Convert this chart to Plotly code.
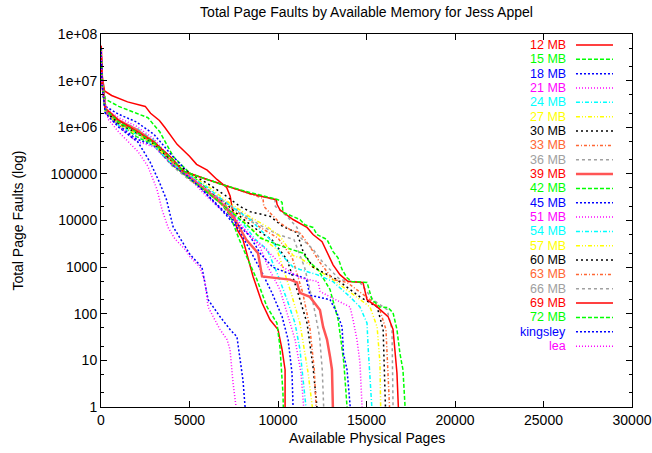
import plotly.graph_objects as go

# Legend entries, colors and dash styles (gnuplot-like)
series_names = ["12 MB", "15 MB", "18 MB", "21 MB", "24 MB", "27 MB", "30 MB", "33 MB", "36 MB",
                "39 MB", "42 MB", "45 MB", "51 MB", "54 MB", "57 MB", "60 MB", "63 MB", "66 MB",
                "69 MB", "72 MB", "kingsley", "lea"]
text_colors = ["#ff0000", "#00ff00", "#0000ff", "#ff00ff", "#00ffff", "#ffff00", "#000000", "#ff6633", "#a0a0a0",
               "#ff0000", "#00ff00", "#0000ff", "#ff00ff", "#00ffff", "#ffff00", "#000000", "#ff6633", "#a0a0a0",
               "#ff0000", "#00ff00", "#0000ff", "#ff00ff"]
line_colors = list(text_colors)
line_colors[9] = "#ff5555"
dashes = ["solid", "4px,2px", "2px,2px", "1px,2px", "4px,2px,1px,2px", "4px,2px,1px,2px,1px,2px",
          "2px,3px", "3px,2px,1px,2px", "3px,3px",
          "solid", "4px,2px", "2px,2px", "1px,2px", "4px,2px,1px,2px", "4px,2px,1px,2px,1px,2px",
          "2px,3px", "3px,2px,1px,2px", "3px,3px",
          "solid", "4px,2px", "2px,2px", "1px,2px"]
widths = [1.5] * 22
widths[9] = 2.5

# Data: available physical pages vs total page faults
pages_12 = [0, 60, 200, 600, 1500, 2500, 2800, 3300, 3600, 4300, 5000, 5400, 6000, 6550, 7100, 7300, 7450, 7700, 8020, 8590, 9100, 9550, 10000, 10230, 10400, 10400]
faults_12 = [5.6e7, 1.3e7, 6.0e6, 4.8e6, 3.5e6, 2.8e6, 2.0e6, 1.4e6, 1.0e6, 4.3e5, 2.4e5, 1.6e5, 1.2e5, 7.6e4, 5.1e4, 3.3e4, 1.5e4, 6300, 3900, 630, 170, 74, 46, 17, 6.3, 1]

pages_15 = [0, 60, 250, 1000, 2000, 2650, 3100, 3330, 4070, 4630, 5500, 6500, 7300, 7800, 8300, 8810, 9380, 9940, 10110, 10230, 10280, 10300]
faults_15 = [5.0e7, 1.0e7, 4.0e6, 2.8e6, 2.0e6, 1.6e6, 1.0e6, 7.9e5, 2.4e5, 1.45e5, 7.0e4, 3.2e4, 1.26e4, 4000, 1450, 540, 140, 63, 19.5, 5.4, 2, 1]

pages_18 = [0, 60, 250, 1000, 2000, 3000, 4000, 5000, 6000, 7000, 7800, 8530, 9100, 9660, 10230, 10570, 10790, 10850]
faults_18 = [5.2e7, 1.0e7, 2.8e6, 1.9e6, 1.3e6, 7.0e5, 2.5e5, 1.0e5, 3.5e4, 1.4e4, 6300, 2000, 760, 280, 87, 28, 5.4, 1]

pages_21 = [0, 60, 250, 1000, 2000, 3000, 4000, 5000, 6000, 7000, 8000, 8980, 9440, 10110, 10570, 10960, 11300, 11450]
faults_21 = [5.0e7, 8.9e6, 2.5e6, 1.6e6, 1.05e6, 5.6e5, 2.0e5, 8.0e4, 3.2e4, 1.5e4, 7100, 2750, 1000, 330, 87, 28, 5.4, 1]

pages_24 = [0, 60, 250, 1000, 2000, 3000, 4000, 5000, 6000, 7000, 8000, 8700, 9380, 9940, 10510, 10960, 11240, 11580]
faults_24 = [5.0e7, 8.9e6, 2.4e6, 1.4e6, 9.5e5, 5.2e5, 1.9e5, 8.9e4, 4.2e4, 2.0e4, 8900, 4000, 2400, 760, 200, 63, 17, 1]

pages_27 = [0, 60, 250, 1000, 2000, 3000, 4000, 5000, 6000, 7000, 8000, 9000, 9940, 10680, 11240, 11700, 11940]
faults_27 = [5.0e7, 8.9e6, 2.3e6, 1.3e6, 8.9e5, 5.0e5, 1.8e5, 8.3e4, 4.2e4, 2.2e4, 1.0e4, 4500, 2400, 330, 63, 5.4, 1]

pages_30 = [0, 60, 250, 1000, 2000, 3000, 4000, 5000, 6000, 7000, 8000, 9000, 9650, 10510, 11070, 11640, 11980, 12200]
faults_30 = [5.0e7, 8.9e6, 2.2e6, 1.26e6, 8.3e5, 4.5e5, 1.66e5, 7.9e4, 4.2e4, 2.4e4, 1.1e4, 5600, 3900, 1450, 330, 63, 7.2, 1]

pages_33 = [0, 60, 250, 1000, 2000, 3000, 4000, 5000, 6000, 7000, 8000, 9000, 10000, 10800, 11400, 11800, 12050, 12150]
faults_33 = [5.0e7, 8.9e6, 2.1e6, 1.2e6, 7.9e5, 4.2e5, 1.6e5, 7.6e4, 4.0e4, 2.5e4, 1.26e4, 7100, 4200, 1600, 280, 50, 6.3, 1]

pages_36 = [0, 60, 250, 1000, 2000, 3000, 4000, 5000, 6000, 7000, 8000, 9000, 10000, 10900, 11500, 12000, 12350, 12500, 12580]
faults_36 = [5.0e7, 8.9e6, 2.1e6, 1.1e6, 7.6e5, 4.0e5, 1.5e5, 7.4e4, 4.2e4, 2.6e4, 1.4e4, 7900, 5000, 3900, 1000, 160, 32, 6.3, 1]

pages_39 = [0, 60, 250, 1000, 2000, 3000, 4000, 5000, 6000, 7000, 7600, 8200, 8870, 9100, 9720, 10680, 11070, 11240, 11800, 12370, 12550, 12770, 12940, 13050, 13100]
faults_39 = [5.0e7, 8.9e6, 2.5e6, 1.4e6, 8.9e5, 4.8e5, 1.8e5, 8.9e4, 4.2e4, 2.0e4, 1.0e4, 3900, 2000, 630, 590, 540, 470, 280, 230, 120, 52, 28, 12, 6.3, 1]

pages_42 = [0, 60, 250, 1000, 2000, 3000, 4000, 5000, 6000, 7000, 8400, 9000, 10280, 11400, 11800, 12260, 12940, 13400, 13550, 13720, 13900]
faults_42 = [5.0e7, 8.9e6, 2.2e6, 1.26e6, 6.3e5, 4.2e5, 1.6e5, 7.9e4, 4.0e4, 2.0e4, 7100, 4200, 2750, 2000, 1260, 890, 330, 74, 28, 8.9, 1]

pages_45 = [0, 60, 250, 1000, 2000, 3000, 4000, 5000, 6000, 7000, 8420, 8980, 9700, 10500, 11240, 11600, 11800, 12940, 13330, 13620, 13700, 13900, 14080]
faults_45 = [5.0e7, 8.9e6, 2.0e6, 1.1e6, 5.6e5, 4.0e5, 1.6e5, 8.3e4, 3.6e4, 1.5e4, 4600, 2000, 1000, 760, 630, 560, 250, 200, 105, 52, 14, 6.3, 1]

pages_51 = [0, 60, 250, 1000, 2000, 3000, 4000, 5000, 6000, 7000, 8420, 9150, 9720, 10280, 11240, 12260, 12380, 12940, 14070, 14240, 14460, 14630, 14750]
faults_51 = [5.0e7, 8.9e6, 2.0e6, 1.05e6, 5.0e5, 3.8e5, 1.6e5, 8.9e4, 4.8e4, 2.2e4, 4600, 2750, 1700, 1000, 590, 490, 300, 230, 140, 74, 28, 8.9, 1]

pages_54 = [0, 60, 250, 1000, 2000, 3000, 4000, 5000, 6000, 7000, 8420, 9150, 9720, 10280, 10850, 11240, 12200, 13110, 14070, 14630, 15030, 15090, 15300]
faults_54 = [5.0e7, 8.9e6, 2.1e6, 1.1e6, 7.1e5, 4.0e5, 1.66e5, 9.5e4, 5.2e4, 2.5e4, 1.05e4, 5500, 3400, 1700, 1000, 890, 690, 490, 230, 140, 63, 19.5, 1]

pages_57 = [0, 60, 250, 1000, 2000, 3000, 4000, 5000, 6000, 7000, 8420, 9380, 10110, 10510, 10850, 11240, 11980, 13110, 14460, 15200, 15600, 15760, 15800]
faults_57 = [5.0e7, 8.9e6, 2.1e6, 1.15e6, 7.2e5, 4.2e5, 1.8e5, 1.0e5, 5.6e4, 2.8e4, 1.2e4, 7400, 4600, 2750, 1780, 1580, 1000, 540, 230, 140, 52, 8.9, 1]

pages_60 = [0, 60, 250, 1000, 2000, 3000, 4000, 5000, 6000, 7000, 7850, 8420, 9550, 10280, 11070, 11410, 11980, 13330, 14630, 15600, 15940, 16070]
faults_60 = [5.0e7, 8.9e6, 2.2e6, 1.2e6, 7.6e5, 4.4e5, 1.9e5, 1.05e5, 6.3e4, 3.5e4, 2.0e4, 1.55e4, 1.23e4, 7400, 5500, 2200, 1000, 540, 230, 140, 46, 1]

pages_63 = [0, 60, 250, 1000, 2000, 3000, 4000, 4630, 6000, 7100, 8400, 9150, 9200, 9700, 10100, 10700, 11240, 11800, 12370, 13110, 13900, 15000, 15700, 16100, 16300]
faults_63 = [5.0e7, 8.9e6, 2.2e6, 1.26e6, 7.9e5, 4.6e5, 2.0e5, 1.1e5, 7.6e4, 5.5e4, 3.8e4, 3.0e4, 2.0e4, 1.26e4, 8900, 6300, 5500, 2750, 1260, 540, 470, 230, 140, 46, 1]

pages_66 = [0, 60, 250, 1000, 2000, 3000, 4000, 4630, 6000, 7100, 8400, 9500, 9830, 9850, 10510, 11070, 11300, 11980, 12540, 13500, 14630, 15370, 16160, 16440, 16500]
faults_66 = [5.0e7, 8.9e6, 2.3e6, 1.3e6, 8.3e5, 4.8e5, 2.1e5, 1.15e5, 7.6e4, 5.5e4, 3.8e4, 3.0e4, 2.8e4, 2.0e4, 1.23e4, 7100, 4200, 2400, 1260, 540, 470, 200, 123, 46, 1]

pages_69 = [0, 60, 250, 1000, 2000, 3000, 4000, 4630, 6000, 7100, 8400, 9900, 9950, 10110, 10850, 11640, 11980, 12490, 12830, 13110, 13500, 13960, 14800, 15030, 15600, 16220, 16500, 16720, 16800]
faults_69 = [5.6e7, 8.9e6, 2.5e6, 1.4e6, 8.3e5, 4.8e5, 2.2e5, 1.15e5, 7.6e4, 5.5e4, 3.8e4, 2.8e4, 2.2e4, 1.7e4, 1.05e4, 7100, 5000, 3500, 1860, 1120, 690, 490, 470, 200, 140, 87, 46, 5.4, 1]

pages_72 = [0, 60, 250, 1000, 2000, 3000, 4000, 4630, 6000, 7100, 8400, 10000, 10230, 10280, 11240, 11520, 11980, 12200, 12770, 13110, 13390, 13620, 13900, 14180, 15030, 15310, 15760, 16220, 16500, 16720, 16890, 17060, 17180]
faults_72 = [5.0e7, 8.9e6, 2.4e6, 1.3e6, 7.9e5, 4.6e5, 2.1e5, 1.15e5, 7.6e4, 5.5e4, 4.0e4, 2.8e4, 2.45e4, 1.5e4, 1.05e4, 8100, 7100, 5000, 3900, 2150, 1580, 890, 590, 490, 470, 200, 140, 135, 105, 46, 14, 6.3, 1]

pages_kingsley = [0, 60, 250, 1000, 2090, 2770, 3300, 3700, 4070, 4500, 5030, 5700, 5880, 6050, 6720, 7290, 7680, 7850, 8020, 8140]
faults_kingsley = [5.0e7, 7.9e6, 2.0e6, 1.0e6, 4.8e5, 1.8e5, 6.6e4, 2.8e4, 7400, 4000, 1860, 1000, 470, 200, 87, 46, 32, 10, 3.8, 1]

pages_lea = [0, 60, 400, 1000, 2090, 2650, 3160, 3450, 3790, 4180, 4750, 5030, 5590, 5880, 6050, 6440, 6720, 7120, 7290, 7460, 7630]
faults_lea = [5.0e7, 7.9e6, 1.5e6, 7.9e5, 3.0e5, 1.45e5, 4.7e4, 1.7e4, 7100, 4000, 2400, 1660, 1000, 470, 140, 74, 46, 28, 17, 3.3, 1]

runs = [(pages_12, faults_12), (pages_15, faults_15), (pages_18, faults_18), (pages_21, faults_21),
        (pages_24, faults_24), (pages_27, faults_27), (pages_30, faults_30), (pages_33, faults_33),
        (pages_36, faults_36), (pages_39, faults_39), (pages_42, faults_42), (pages_45, faults_45),
        (pages_51, faults_51), (pages_54, faults_54), (pages_57, faults_57), (pages_60, faults_60),
        (pages_63, faults_63), (pages_66, faults_66), (pages_69, faults_69), (pages_72, faults_72),
        (pages_kingsley, faults_kingsley), (pages_lea, faults_lea)]

x_ticks = [0, 5000, 10000, 15000, 20000, 25000, 30000]
y_ticks = [1, 10, 100, 1000, 10000, 100000, 1e6, 1e7, 1e8]
y_ticktext = ["1", "10", "100", "1000", "10000", "100000", "1e+06", "1e+07", "1e+08"]
y_minor = [m * 10 ** k for k in range(8) for m in (2, 5)]

FONT = "Liberation Sans, Arial, Helvetica, sans-serif"
FS = 14
KEY_FS = 12.5

fig = go.Figure()

for i, (xs, ys) in enumerate(runs):
    fig.add_trace(go.Scatter(
        x=xs, y=ys, mode="lines", name=series_names[i], showlegend=False,
        line=dict(color=line_colors[i], dash=dashes[i], width=widths[i]),
    ))

# gnuplot-style key: coloured text on the left, line sample on the right
annotations = []
shapes = []
row_h = 14.34 / 373  # row spacing in paper units
top = (407 - 45) / 373
for i, name in enumerate(series_names):
    yy = top - i * row_h
    annotations.append(dict(
        x=0.8776, y=yy, xref="paper", yref="paper", text=name, showarrow=False, borderpad=0,
        xanchor="right", yanchor="middle", font=dict(size=KEY_FS, color=text_colors[i], family=FONT),
    ))
    shapes.append(dict(
        type="line", xref="paper", yref="paper", x0=0.8945, x1=0.9642, y0=yy, y1=yy,
        line=dict(color=line_colors[i], dash=dashes[i], width=widths[i]),
    ))

annotations.append(dict(
    x=0.5, y=-0.082, xref="paper", yref="paper", text="Available Physical Pages",
    showarrow=False, xanchor="center", yanchor="middle", font=dict(size=FS, color="black", family=FONT),
))
annotations.append(dict(
    x=-0.158, y=0.5, xref="paper", yref="paper", text="Total Page Faults (log)", textangle=-90,
    showarrow=False, xanchor="center", yanchor="middle", font=dict(size=FS, color="black", family=FONT),
))

fig.update_layout(
    width=652, height=453,
    margin=dict(l=101, r=20, t=34, b=46),
    plot_bgcolor="white", paper_bgcolor="white",
    font=dict(family=FONT, size=FS, color="black"),
    title=dict(text="Total Page Faults by Available Memory for Jess Appel", x=0.5, xref="paper",
               y=1 - 12 / 453, yanchor="middle", font=dict(size=FS, color="black", family=FONT)),
    xaxis=dict(
        range=[0, 30000], tickvals=x_ticks, ticktext=[str(v) for v in x_ticks], automargin=False,
        showline=True, linecolor="black", linewidth=1, mirror="ticks",
        ticks="inside", ticklen=6, tickcolor="black", showgrid=False, zeroline=False,
    ),
    yaxis=dict(
        type="log", range=[0, 8], tickvals=y_ticks, ticktext=y_ticktext, automargin=False,
        showline=True, linecolor="black", linewidth=1, mirror="ticks",
        ticks="inside", ticklen=6, tickcolor="black", showgrid=False, zeroline=False,
        minor=dict(tickmode="array", tickvals=y_minor, ticks="inside", ticklen=3, tickcolor="black", showgrid=False),
    ),
    annotations=annotations,
    shapes=shapes,
)

fig.write_html("out.html", config={"displayModeBar": False},
               post_script="document.body.style.margin='0';document.body.style.overflow='hidden';")
